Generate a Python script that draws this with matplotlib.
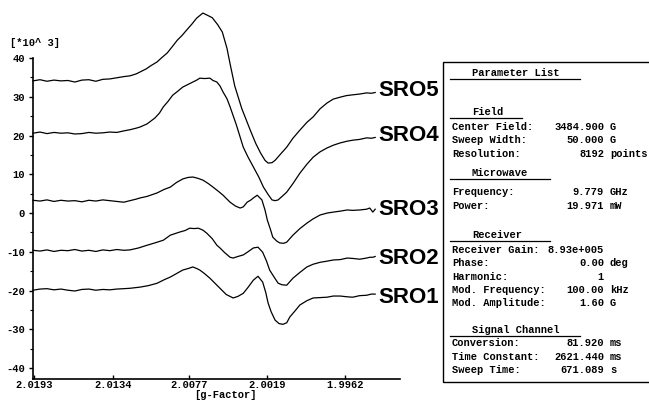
import matplotlib
matplotlib.use("Agg")
import matplotlib.pyplot as plt
from matplotlib.patches import Rectangle
from matplotlib.lines import Line2D
from matplotlib.ticker import MultipleLocator

plt.rcParams["axes.unicode_minus"] = False

# EPR spectra, field in G, intensity in 10^3 units
field5 = [3459.9, 3460.8, 3461.7, 3462.6, 3463.5, 3464.4, 3465.3, 3466.2, 3467.1, 3468.0,
          3468.9, 3469.8, 3470.7, 3471.6, 3472.4, 3473.2, 3473.7, 3474.5, 3475.0, 3475.9,
          3476.5, 3477.2, 3477.8, 3478.5, 3479.1, 3479.7, 3480.4, 3481.0, 3481.8, 3482.4,
          3483.0, 3483.7, 3484.3, 3484.9, 3485.3, 3485.9, 3486.8, 3487.9, 3488.6, 3489.2,
          3489.8, 3490.2, 3490.7, 3491.1, 3491.8, 3492.6, 3493.4, 3494.3, 3495.2, 3496.0,
          3496.9, 3497.8, 3498.6, 3499.5, 3500.3, 3501.1, 3502.0, 3502.9, 3503.5, 3504.0]
sro5 = [34.1, 34.4, 34.0, 34.3, 34.1, 34.2, 33.8, 34.3, 34.4, 34.0,
        34.5, 34.6, 34.9, 35.2, 35.4, 35.9, 36.4, 37.2, 37.9, 39.0,
        40.1, 41.3, 42.8, 44.6, 45.8, 47.2, 48.8, 50.3, 51.6, 51.0,
        50.4, 48.6, 46.7, 42.5, 38.5, 32.8, 27.0, 21.4, 18.0, 15.6,
        13.6, 12.9, 13.0, 13.6, 15.2, 17.0, 19.3, 21.4, 23.4, 24.8,
        26.9, 28.4, 29.4, 29.9, 30.3, 30.5, 30.7, 31.0, 30.9, 31.1]

field4 = [3459.9, 3460.8, 3461.7, 3462.6, 3463.5, 3464.4, 3465.3, 3466.2, 3467.1, 3468.0,
          3468.9, 3469.8, 3470.7, 3471.6, 3472.4, 3473.2, 3473.7, 3474.6, 3475.6, 3476.2,
          3476.7, 3477.3, 3477.9, 3478.6, 3479.2, 3479.9, 3480.5, 3481.0, 3481.4, 3482.0,
          3482.7, 3483.1, 3483.6, 3484.0, 3484.4, 3484.9, 3485.3, 3486.1, 3487.0, 3487.6,
          3488.3, 3489.0, 3489.6, 3490.2, 3490.7, 3491.1, 3491.5, 3492.0, 3492.6, 3493.4,
          3494.3, 3495.2, 3496.0, 3496.9, 3497.8, 3498.6, 3499.5, 3500.3, 3501.1, 3502.0,
          3502.9, 3503.5, 3504.0]
sro4 = [20.6, 20.9, 20.5, 20.8, 20.6, 20.7, 20.4, 20.5, 20.8, 20.6,
        20.7, 20.9, 20.8, 21.2, 21.5, 21.9, 22.2, 23.0, 24.5, 25.8,
        27.4, 28.8, 30.4, 31.5, 32.5, 33.2, 33.8, 34.3, 34.8, 34.7,
        34.8, 34.2, 33.8, 32.8, 31.2, 29.5, 27.4, 22.8, 17.0, 14.5,
        11.9, 9.3, 6.7, 4.8, 3.4, 3.2, 3.4, 4.3, 5.4, 7.6,
        10.3, 12.6, 14.4, 15.8, 16.8, 17.5, 18.1, 18.5, 18.8, 19.0,
        19.4, 19.3, 19.5]

field3 = [3459.9, 3460.8, 3461.7, 3462.6, 3463.5, 3464.4, 3465.3, 3466.2, 3467.1, 3468.0,
          3468.9, 3469.8, 3470.7, 3471.6, 3472.4, 3473.2, 3473.7, 3474.6, 3475.9, 3476.8,
          3477.6, 3478.4, 3479.2, 3479.9, 3480.5, 3481.1, 3481.8, 3482.5, 3483.1, 3483.8,
          3484.4, 3485.3, 3486.0, 3486.6, 3487.0, 3487.5, 3488.0, 3488.3, 3488.8, 3489.4,
          3489.8, 3490.1, 3490.5, 3490.8, 3491.3, 3491.7, 3492.2, 3492.6, 3493.4, 3494.3,
          3495.2, 3496.0, 3496.9, 3497.8, 3498.6, 3499.5, 3500.4, 3501.1, 3502.0, 3502.9,
          3503.3, 3503.7, 3504.0]
sro3 = [3.3, 3.1, 3.4, 3.0, 3.3, 3.1, 3.2, 2.9, 3.3, 3.1,
        3.4, 3.2, 3.0, 2.8, 3.2, 3.6, 3.9, 4.3, 5.2, 6.1,
        6.7, 7.9, 8.8, 9.2, 9.3, 9.0, 8.5, 7.6, 6.7, 5.6,
        4.6, 2.8, 1.8, 1.3, 1.6, 2.8, 3.4, 3.9, 4.6, 3.4,
        0.8, -1.8, -4.2, -6.2, -7.2, -7.7, -7.8, -7.5, -5.7, -4.0,
        -2.6, -1.5, -0.5, 0.0, 0.25, 0.5, 0.8, 0.7, 0.8, 1.0,
        1.3, 0.25, 1.0]

field2 = [3459.9, 3460.8, 3461.7, 3462.6, 3463.5, 3464.4, 3465.3, 3466.2, 3467.1, 3468.0,
          3468.9, 3469.8, 3470.7, 3471.6, 3472.4, 3473.5, 3474.6, 3475.6, 3476.7, 3477.6,
          3478.2, 3478.8, 3479.5, 3480.1, 3480.7, 3481.2, 3481.8, 3482.3, 3483.0, 3483.6,
          3484.0, 3484.6, 3485.3, 3485.7, 3486.3, 3487.0, 3487.6, 3488.3, 3488.9, 3489.5,
          3490.0, 3490.4, 3491.0, 3491.5, 3492.0, 3492.6, 3493.4, 3494.3, 3495.2, 3496.0,
          3496.9, 3497.8, 3498.6, 3499.5, 3500.4, 3501.1, 3502.0, 3502.9, 3503.3, 3503.7,
          3504.0]
sro2 = [-9.6, -9.8, -9.5, -9.9, -9.6, -9.7, -9.4, -9.8, -9.6, -9.9,
        -9.5, -9.7, -9.4, -9.6, -9.5, -9.0, -8.3, -7.7, -7.0, -5.7,
        -5.3, -4.9, -4.5, -3.9, -4.0, -3.9, -4.4, -5.2, -6.6, -8.3,
        -9.0, -10.2, -11.4, -11.6, -11.2, -10.8, -10.0, -9.0, -8.8, -10.1,
        -12.4, -14.7, -16.6, -18.1, -18.5, -18.6, -16.8, -15.3, -13.9, -13.2,
        -12.7, -12.4, -12.1, -12.0, -11.6, -11.7, -11.9, -11.6, -11.4, -11.4,
        -11.2]

field1 = [3459.9, 3460.8, 3461.7, 3462.6, 3463.5, 3464.4, 3465.3, 3466.2, 3467.1, 3468.0,
          3468.9, 3469.8, 3470.7, 3471.6, 3472.4, 3473.7, 3474.8, 3475.9, 3476.8, 3477.6,
          3478.4, 3479.2, 3479.9, 3480.5, 3481.0, 3481.4, 3482.0, 3482.7, 3483.3, 3484.0,
          3484.8, 3485.7, 3486.3, 3487.0, 3487.6, 3488.3, 3488.9, 3489.5, 3489.9, 3490.2,
          3490.6, 3491.1, 3491.6, 3492.1, 3492.6, 3493.0, 3493.6, 3494.3, 3495.2, 3496.0,
          3496.9, 3497.8, 3498.6, 3499.5, 3500.4, 3501.1, 3502.0, 3502.9, 3503.5, 3504.0]
sro1 = [-19.9, -19.6, -19.5, -19.8, -19.6, -19.9, -20.1, -19.7, -19.6, -19.9,
        -19.7, -19.8, -19.6, -19.5, -19.4, -19.1, -18.7, -18.1, -17.2, -16.5,
        -15.6, -14.7, -14.3, -13.9, -14.3, -14.7, -15.6, -16.8, -18.0, -19.4,
        -21.0, -21.9, -21.5, -20.7, -19.2, -17.3, -16.3, -17.8, -20.5, -23.2,
        -25.5, -27.6, -28.5, -28.7, -28.3, -26.8, -25.4, -23.7, -22.6, -21.9,
        -21.8, -21.7, -21.4, -21.4, -21.6, -21.7, -21.3, -21.2, -20.9, -20.9]

series = [(field5, sro5, "SRO5"), (field4, sro4, "SRO4"), (field3, sro3, "SRO3"),
          (field2, sro2, "SRO2"), (field1, sro1, "SRO1")]
label_y = [31.5, 19.9, 1.0, -11.6, -21.7]

g_ticks = ["2.0193", "2.0134", "2.0077", "2.0019", "1.9962"]
freq_ghz = 9.779

params = [
    ("Parameter List", None, None, "head"),
    ("Field", None, None, "head"),
    ("Center Field:", "3484.900", "G", ""),
    ("Sweep Width:", "50.000", "G", ""),
    ("Resolution:", "8192", "points", ""),
    ("Microwave", None, None, "head"),
    ("Frequency:", "9.779", "GHz", ""),
    ("Power:", "19.971", "mW", ""),
    ("Receiver", None, None, "head"),
    ("Receiver Gain:", "8.93e+005", "", ""),
    ("Phase:", "0.00", "deg", ""),
    ("Harmonic:", "1", "", ""),
    ("Mod. Frequency:", "100.00", "kHz", ""),
    ("Mod. Amplitude:", "1.60", "G", ""),
    ("Signal Channel", None, None, "head"),
    ("Conversion:", "81.920", "ms", ""),
    ("Time Constant:", "2621.440", "ms", ""),
    ("Sweep Time:", "671.089", "s", ""),
]
# pixel rows of the parameter lines
param_rows = [73, 112, 127, 140, 154, 173, 192, 206, 235, 250, 263, 277, 290, 303, 330, 343, 357, 370]
underline_end = {"Parameter List": 580, "Field": 522, "Microwave": 550,
                 "Receiver": 550, "Signal Channel": 580}

W, H = 649, 403
mono = "Liberation Mono"

fig = plt.figure(figsize=(W / 100, H / 100), dpi=100)
ax = fig.add_axes([33 / W, 24 / H, 367 / W, 321 / H])


def px(x, y):
    return x / W, 1 - y / H


for f, v, name in series:
    ax.plot(f, v, color="black", lw=0.9, clip_on=False)

for (f, v, name), ly in zip(series, label_y):
    ax.text(3504.4, ly, name, ha="left", va="center", fontsize=16,
            fontweight="bold", family="Liberation Sans", clip_on=False)

ax.set_xlim(3459.9, 3507.2)
ax.set_ylim(-42.8, 40)
ax.yaxis.set_major_locator(MultipleLocator(10))
ax.yaxis.set_minor_locator(MultipleLocator(5))
ax.set_xticks([714.477 * freq_ghz / float(g) for g in g_ticks])
ax.set_xticklabels(g_ticks)
for s in ["top", "right"]:
    ax.spines[s].set_visible(False)
for s in ["left", "bottom"]:
    ax.spines[s].set_linewidth(1.2)
ax.tick_params(axis="y", direction="out", length=3, width=1, pad=3)
ax.tick_params(axis="y", which="minor", direction="out", length=2, width=0.8)
ax.tick_params(axis="x", direction="in", length=3, width=1, pad=1)
for lab in ax.get_xticklabels() + ax.get_yticklabels():
    lab.set_family(mono)
    lab.set_fontweight("bold")
    lab.set_fontsize(7.5)

fig.text(*px(225, 395), "[g-Factor]", family=mono, fontweight="bold", fontsize=7.5,
         ha="center", va="center")
fig.text(*px(10, 43), "[*10^ 3]", family=mono, fontweight="bold", fontsize=7.5,
         ha="left", va="center")

# parameter list box
x0, y0 = px(443, 382)
fig.patches.append(Rectangle((x0, y0), 1.0, (382 - 62) / H, transform=fig.transFigure,
                             fill=False, lw=1.0, ec="black"))

for (name, val, unit, kind), row in zip(params, param_rows):
    if kind == "head":
        fig.text(*px(472, row), name, family=mono, fontweight="bold", fontsize=7.5,
                 ha="left", va="center")
        xa, ya = px(450, row + 6)
        xb, _ = px(underline_end[name], row + 6)
        fig.lines.append(Line2D([xa, xb], [ya, ya], transform=fig.transFigure,
                                color="black", lw=0.9))
    else:
        fig.text(*px(452, row), name, family=mono, fontweight="bold", fontsize=7.5,
                 ha="left", va="center")
        fig.text(*px(604, row), val, family=mono, fontweight="bold", fontsize=7.5,
                 ha="right", va="center")
        if unit:
            fig.text(*px(610, row), unit, family=mono, fontweight="bold", fontsize=7.5,
                     ha="left", va="center")

fig.savefig("out.png", dpi=100)
